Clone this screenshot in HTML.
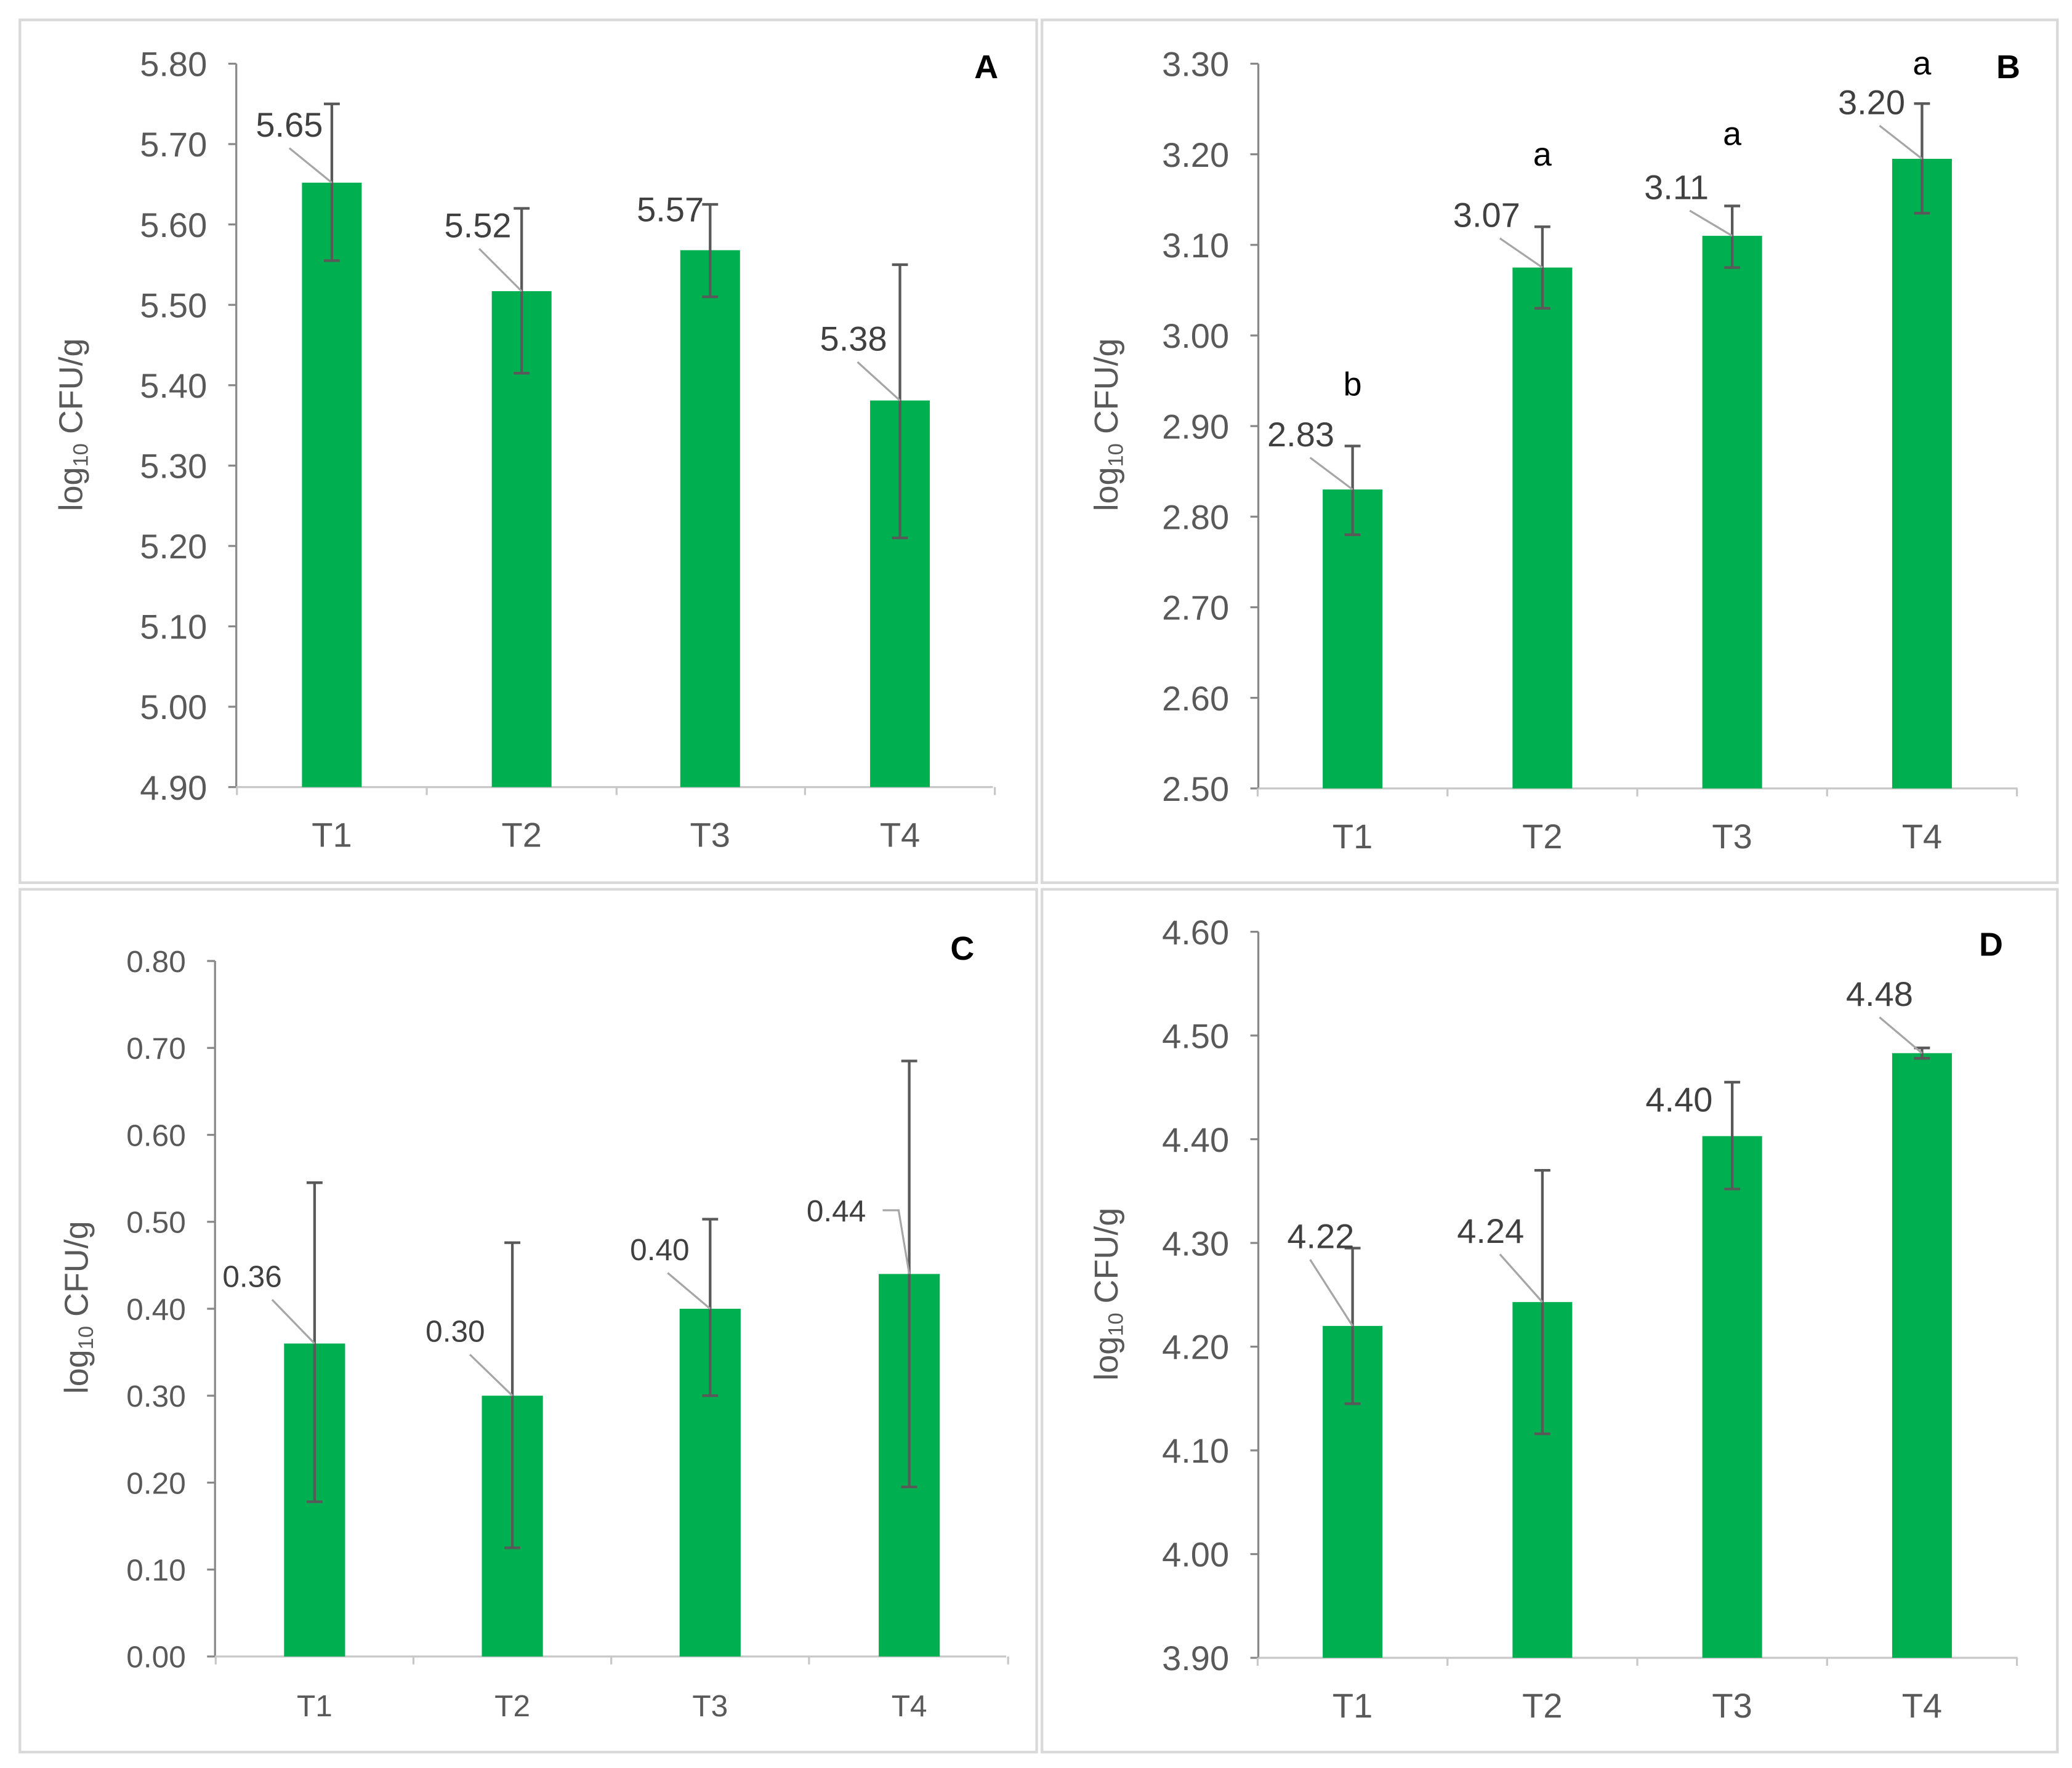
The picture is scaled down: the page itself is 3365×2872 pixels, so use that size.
<!DOCTYPE html>
<html><head><meta charset="utf-8">
<style>
html,body{margin:0;padding:0;background:#fff;}
svg{display:block;}
text{font-family:"Liberation Sans",Arial,sans-serif;}
</style></head>
<body>
<svg id="fig" width="3365" height="2872" viewBox="0 0 1561 1332" preserveAspectRatio="none" xmlns="http://www.w3.org/2000/svg"></svg>
<script>
const categories = ["T1","T2","T3","T4"];
const valuesA = [5.652,5.517,5.568,5.381];
const lowA = [5.555,5.415,5.51,5.21];
const highA = [5.75,5.62,5.625,5.55];
const labelsA = ["5.65","5.52","5.57","5.38"];
const ticksA = ["4.90","5.00","5.10","5.20","5.30","5.40","5.50","5.60","5.70","5.80"];

const valuesB = [2.83,3.075,3.11,3.195];
const lowB = [2.78,3.03,3.075,3.135];
const highB = [2.878,3.12,3.143,3.256];
const labelsB = ["2.83","3.07","3.11","3.20"];
const lettersB = ["b","a","a","a"];
const ticksB = ["2.50","2.60","2.70","2.80","2.90","3.00","3.10","3.20","3.30"];

const valuesC = [0.36,0.30,0.40,0.44];
const lowC = [0.178,0.125,0.30,0.195];
const highC = [0.545,0.476,0.503,0.685];
const labelsC = ["0.36","0.30","0.40","0.44"];
const ticksC = ["0.00","0.10","0.20","0.30","0.40","0.50","0.60","0.70","0.80"];

const valuesD = [4.22,4.243,4.403,4.483];
const lowD = [4.145,4.116,4.352,4.478];
const highD = [4.295,4.37,4.455,4.488];
const labelsD = ["4.22","4.24","4.40","4.48"];
const ticksD = ["3.90","4.00","4.10","4.20","4.30","4.40","4.50","4.60"];

const NS="http://www.w3.org/2000/svg";
const svg=document.getElementById('fig');
function mk(tag,attrs,parent,txt){const e=document.createElementNS(NS,tag);for(const k in attrs)e.setAttribute(k,attrs[k]);if(txt!==undefined)e.textContent=txt;(parent||svg).appendChild(e);return e;}

const panels=[
 {id:"a",letter:"A",box:[15,15,766,650],ax:178,yTop:48,yBot:593,xEnd:748,min:4.9,max:5.8,cx:[250,393,535,678],bw:45,fs:26,
  vals:valuesA,lo:lowA,hi:highA,lab:labelsA,ticks:ticksA,ltr:[743,50],ylab:[62,320],
  loff:[[-32,-44],[-33,-50],[-30,-31],[-35,-47]],line:[true,true,false,true]},
 {id:"b",letter:"B",box:[785,15,765,650],ax:948,yTop:48,yBot:594,xEnd:1520,min:2.5,max:3.3,cx:[1019,1162,1305,1448],bw:45,fs:26,
  vals:valuesB,lo:lowB,hi:highB,lab:labelsB,ticks:ticksB,ltr:[1513,50],ylab:[842,320],letters:lettersB,
  letterOff:[-47,-55,-55,-31],
  loff:[[-39,-42],[-42,-40],[-42,-37],[-38,-43]],line:[true,true,true,true]},
 {id:"c",letter:"C",box:[15,670,766,650],ax:162,yTop:724,yBot:1248,xEnd:758,min:0,max:0.8,cx:[237,386,535,685],bw:46,fs:23,
  vals:valuesC,lo:lowC,hi:highC,lab:labelsC,ticks:ticksC,ltr:[725,714],ylab:[66,985],
  loff:[[-47,-51],[-43,-49],[-38,-45],[-55,-48]],line:[true,true,true,"hook"]},
 {id:"d",letter:"D",box:[785,670,765,650],ax:948,yTop:702,yBot:1249,xEnd:1520,min:3.9,max:4.6,cx:[1019,1162,1305,1448],bw:45,fs:26,
  vals:valuesD,lo:lowD,hi:highD,lab:labelsD,ticks:ticksD,ltr:[1500,711],ylab:[842,975],
  loff:[[-24,-68],[-39,-54],[-40,-28],[-32,-45]],line:[true,true,false,true]}
];

panels.forEach(p=>{
  const g=mk('g',{});
  
  
  const b=mk('rect',{x:p.box[0],y:p.box[1],width:p.box[2],height:p.box[3],fill:'#fff',stroke:'#d9d9d9','stroke-width':2},g);
  
  
  const y=v=>p.yBot-(v-p.min)/(p.max-p.min)*(p.yBot-p.yTop);
  const ya=mk('line',{x1:p.ax,y1:p.yTop,x2:p.ax,y2:p.yBot,stroke:'#888','stroke-width':1.5},g);
  
  
  p.ticks.forEach(t=>{
    const yy=y(parseFloat(t));
    mk('line',{x1:p.ax-6,y1:yy,x2:p.ax,y2:yy,stroke:'#888','stroke-width':1.5},g);
    const tl=mk('text',{x:p.ax-22,y:yy+p.fs*0.36,'font-size':p.fs,fill:'#595959','text-anchor':'end'},g,t);
    
    
  });
  const xa=mk('line',{x1:p.ax,y1:p.yBot,x2:p.xEnd,y2:p.yBot,stroke:'#c8c8c8','stroke-width':1.5},g);
  
  
  const step=(p.cx[1]-p.cx[0]);
  [p.cx[0]-step/2,...p.cx.map(c=>c+step/2)].forEach(xx=>{
    mk('line',{x1:xx,y1:p.yBot,x2:xx,y2:p.yBot+6,stroke:'#c8c8c8','stroke-width':1.5},g);
  });
  const yt=mk('text',{transform:`translate(${p.ylab[0]},${p.ylab[1]}) rotate(-90)`,'font-size':25,fill:'#595959','text-anchor':'middle'},g);
  
  
  mk('tspan',{},yt,'log');
  mk('tspan',{'font-size':16,dy:4},yt,'10');
  mk('tspan',{dy:-4},yt,' CFU/g');
  const L=mk('text',{x:p.ltr[0],y:p.ltr[1]+9,'font-size':25,'font-weight':'bold',fill:'#000','text-anchor':'middle'},g,p.letter);
  
  
  categories.forEach((c,i)=>{
    const cx=p.cx[i], top=y(p.vals[i]);
    const r=mk('rect',{x:cx-p.bw/2,y:top,width:p.bw,height:p.yBot-top,fill:'#00b050'},g);
    
    
    const e=mk('g',{stroke:'#595959','stroke-width':2},g);
    
    
    mk('line',{x1:cx,y1:y(p.lo[i]),x2:cx,y2:y(p.hi[i])},e);
    mk('line',{x1:cx-6,y1:y(p.lo[i]),x2:cx+6,y2:y(p.lo[i])},e);
    mk('line',{x1:cx-6,y1:y(p.hi[i]),x2:cx+6,y2:y(p.hi[i])},e);
    const lx=cx+p.loff[i][0], ly=top+p.loff[i][1];
    if(p.line[i]===true){
      mk('line',{x1:cx-32,y1:ly+18,x2:cx,y2:top,stroke:'#a6a6a6','stroke-width':1.5},g);
    } else if(p.line[i]==="hook"){
      mk('polyline',{points:`${cx-20},${ly} ${cx-8},${ly} ${cx},${top}`,fill:'none',stroke:'#a6a6a6','stroke-width':1.5},g);
    }
    const dl=mk('text',{x:lx,y:ly+p.fs*0.36,'font-size':p.fs,fill:'#404040','text-anchor':'middle'},g,p.lab[i]);
    
    
    if(p.letters){
      const sl=mk('text',{x:cx,y:y(p.hi[i])+p.letterOff[i]+9,'font-size':25,fill:'#000','text-anchor':'middle'},g,p.letters[i]);
      
      
    }
    const xl=mk('text',{x:cx,y:p.yBot+45,'font-size':p.fs,fill:'#595959','text-anchor':'middle'},g,c);
    
    
  });
});
</script>
</body></html>
